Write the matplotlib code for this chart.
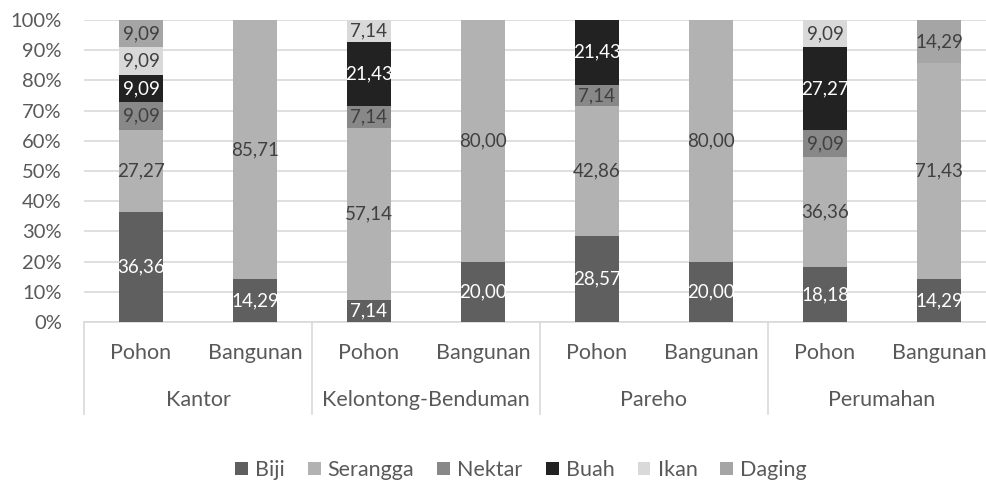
import matplotlib
matplotlib.use("Agg")
import matplotlib.pyplot as plt
import numpy as np

plt.rcParams['font.family'] = ['Lato', 'DejaVu Sans']

groups = ["Kantor", "Kelontong-Benduman", "Pareho", "Perumahan"]
subcats = ["Pohon", "Bangunan"]
series = ["Biji", "Serangga", "Nektar", "Buah", "Ikan", "Daging"]

biji     = [36.36, 14.29, 7.14, 20.00, 28.57, 20.00, 18.18, 14.29]
serangga = [27.27, 85.71, 57.14, 80.00, 42.86, 80.00, 36.36, 71.43]
nektar   = [9.09, 0, 7.14, 0, 7.14, 0, 9.09, 0]
buah     = [9.09, 0, 21.43, 0, 21.43, 0, 27.27, 0]
ikan     = [9.09, 0, 7.14, 0, 0, 0, 9.09, 0]
daging   = [9.09, 0, 0, 0, 0, 0, 0, 14.29]

colors = ["#5f5f5f", "#b2b2b2", "#888888", "#222222", "#d9d9d9", "#a5a5a5"]
label_colors = ["white", "#404040", "#404040", "white", "#404040", "#404040"]

data = np.array([biji, serangga, nektar, buah, ikan, daging])
totals = data.sum(axis=0)
pct = data / totals * 100

W, H = 987, 483
fig = plt.figure(figsize=(W/100, H/100), dpi=100)
ax = fig.add_axes([84/W, (H-322)/H, 912/W, 302/H])

x = np.arange(8)
bottom = np.zeros(8)
for i, name in enumerate(series):
    ax.bar(x, pct[i], bottom=bottom, width=0.39, color=colors[i], label=name, zorder=3)
    for j in range(8):
        if data[i, j] > 0:
            ax.text(x[j], bottom[j] + pct[i, j]/2, f"{data[i, j]:.2f}".replace('.', ','),
                    ha='center', va='center', color=label_colors[i], fontsize=13.5, zorder=4)
    bottom += pct[i]

ax.set_xlim(-0.5, 7.5)
ax.set_ylim(0, 100)
ax.set_yticks(np.arange(0, 101, 10))
ax.set_yticklabels([f"{v}%" for v in range(0, 101, 10)])
ax.tick_params(axis='y', length=0, pad=16, labelsize=14.5, labelcolor='#595959')
ax.tick_params(axis='x', length=0, labelbottom=False)
ax.grid(axis='y', color='#d9d9d9', linewidth=1.2, zorder=0)
for s in ['left', 'right', 'top']:
    ax.spines[s].set_visible(False)
ax.spines['bottom'].set_color('#d9d9d9')
ax.spines['bottom'].set_linewidth(1.2)

trans = ax.get_xaxis_transform()
sep_bottom = -(414-322)/302
for b in [-0.5, 1.5, 3.5, 5.5, 7.5]:
    ax.plot([b, b], [0, sep_bottom], transform=trans, color='#d9d9d9', linewidth=1.2, clip_on=False)
for j in range(8):
    ax.text(x[j], -(353-322)/302, subcats[j % 2], transform=trans, ha='center', va='center',
            fontsize=15.5, color='#595959')
for g, name in enumerate(groups):
    ax.text(2*g + 0.5, -(400-322)/302, name, transform=trans, ha='center', va='center',
            fontsize=15.5, color='#595959')

leg = fig.legend(loc='center', bbox_to_anchor=(521/W, 1-470/H), ncol=6, frameon=False,
                 handlelength=0.6, handleheight=0.6, handletextpad=0.33, columnspacing=1.07,
                 fontsize=15.5)
for t in leg.get_texts():
    t.set_color('#595959')

fig.savefig("out.png", dpi=100)
